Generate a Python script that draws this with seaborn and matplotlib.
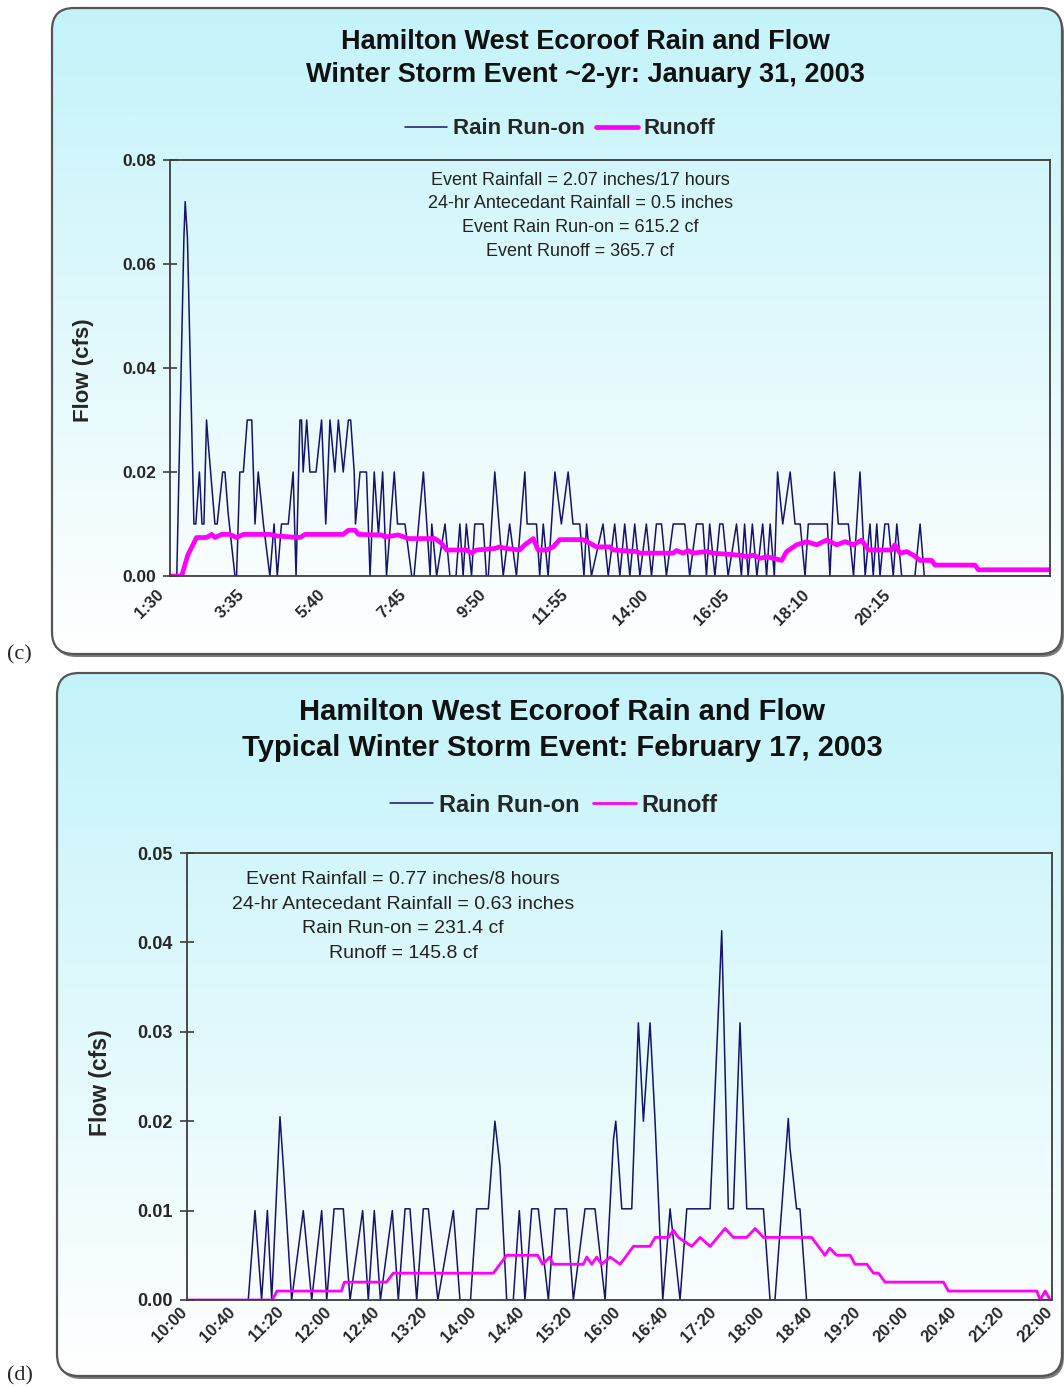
import numpy as np
import matplotlib
matplotlib.use("Agg")
import matplotlib.pyplot as plt
from matplotlib.patches import FancyBboxPatch
from matplotlib.colors import LinearSegmentedColormap
from matplotlib.transforms import ScaledTranslation
import seaborn as sns

# --- (c) January 31, 2003: 5-minute readings, step 0 = 1:30 ---
rain_c_step = [0, 2.1, 4.3, 4.7, 5.4, 7.4, 8.0, 9.1, 9.9, 10.5, 11.3, 11.9, 13.9, 14.6,
               16.3, 17.0, 18.0, 20.1, 20.6, 21.6, 22.7, 23.9, 25.3, 26.3, 27.3, 28.9,
               30.9, 32.2, 33.2, 34.5, 36.6, 38.1, 39.0, 40.2, 40.7, 41.2, 42.3, 43.3,
               45.2, 46.9, 48.2, 49.5, 51.0, 52.1, 53.6, 55.2, 55.9, 57.0, 57.4, 58.8,
               60.8, 61.9, 63.2, 64.5, 65.8, 67.0, 69.4, 70.4, 72.7, 74.8, 75.5, 78.4,
               80.5, 81.0, 82.5, 85.1, 86.6, 88.5, 89.7, 90.7, 91.7, 93.3, 94.3, 96.9,
               97.9, 98.5, 100.5, 103.1, 105.1, 107.2, 109.8, 110.5, 113.4, 114.4, 115.5,
               117.0, 119.1, 121.1, 123.2, 124.7, 126.8, 128.1, 128.9, 130.4, 134.0,
               135.6, 137.6, 139.2, 140.7, 142.3, 143.8, 145.4, 147.4, 149.0, 150.5,
               152.1, 153.6, 155.7, 159.3, 160.8, 162.9, 164.9, 166.0, 167.0, 168.6,
               170.1, 171.1, 172.7, 175.3, 176.8, 177.8, 178.9, 180.2, 181.6, 183.4,
               184.6, 185.7, 187.0, 188.0, 189.6, 191.9, 193.4, 195.0, 196.5, 197.5,
               203.4, 204.2, 205.6, 206.8, 209.9, 211.5, 213.5, 215.1, 216.6, 217.6,
               218.7, 219.7, 221.2, 222.3, 223.8, 224.9, 226.4, 230.5, 232.1, 233.4, 272.3]
rain_c = [0, 0, 0.065, 0.072, 0.065, 0.01, 0.01, 0.02, 0.01, 0.01, 0.03, 0.025, 0.01, 0.01,
          0.02, 0.02, 0.012, 0, 0, 0.02, 0.02, 0.03, 0.03, 0.01, 0.02, 0.01,
          0, 0.01, 0, 0.01, 0.01, 0.02, 0, 0.03, 0.03, 0.02, 0.03, 0.02,
          0.02, 0.03, 0.01, 0.03, 0.02, 0.03, 0.02, 0.03, 0.03, 0.02, 0.01, 0.02,
          0.02, 0, 0.02, 0.008, 0.02, 0, 0.02, 0.01, 0.01, 0, 0, 0.02,
          0, 0.01, 0, 0.01, 0, 0, 0.01, 0, 0.01, 0, 0.01, 0.01,
          0, 0, 0.02, 0, 0.01, 0, 0.02, 0.01, 0.01, 0, 0.01,
          0, 0.02, 0.01, 0.02, 0.01, 0.01, 0, 0.01, 0, 0.01,
          0, 0.01, 0, 0.01, 0, 0.01, 0, 0.01, 0, 0.01,
          0.01, 0, 0.01, 0.01, 0, 0.01, 0.01, 0, 0.01, 0,
          0.01, 0.01, 0, 0.01, 0, 0.01, 0, 0.01, 0, 0.01,
          0, 0.01, 0, 0.02, 0.01, 0.02, 0.01, 0.01, 0, 0.01,
          0.01, 0, 0.02, 0.01, 0.01, 0, 0.02, 0, 0.01, 0,
          0.01, 0, 0.01, 0.01, 0, 0.01, 0, 0, 0.01, 0, 0]

runoff_c_step = [0, 3.6, 5.5, 8.2, 11.3, 12.9, 13.9, 16.0, 18.5, 20.6, 22.7, 31.0, 33.0,
                 40.2, 41.8, 53.6, 55.2, 57.3, 58.3, 65.5, 66.5, 70.6, 73.8, 82.0, 84.0,
                 85.6, 91.7, 93.3, 94.8, 100.5, 102.0, 104.0, 108.2, 109.8, 112.4, 113.9,
                 116.5, 118.6, 120.6, 127.8, 129.9, 132.0, 136.1, 137.1, 144.3, 145.4,
                 155.7, 156.7, 158.8, 160.3, 161.8, 166.0, 168.0, 176.4, 178.5, 180.5,
                 182.6, 184.6, 186.7, 189.3, 190.8, 193.9, 197.0, 200.1, 203.2, 206.3,
                 208.9, 211.5, 214.0, 216.1, 223.3, 224.3, 225.9, 228.0, 230.0, 232.1,
                 235.7, 236.7, 249.1, 250.1, 272.3]
runoff_c = [0, 0, 0.004, 0.0074, 0.0074, 0.008, 0.0074, 0.008, 0.008, 0.0074, 0.008, 0.008, 0.0077,
            0.0074, 0.008, 0.008, 0.0088, 0.0088, 0.008, 0.0079, 0.0075, 0.0079, 0.0072, 0.0072, 0.0063,
            0.005, 0.005, 0.0044, 0.005, 0.0053, 0.0056, 0.0053, 0.005, 0.006, 0.0072, 0.005,
            0.005, 0.0056, 0.007, 0.007, 0.0063, 0.0056, 0.0056, 0.005, 0.0047, 0.0044,
            0.0044, 0.0049, 0.0044, 0.0049, 0.0044, 0.0047, 0.0044, 0.004, 0.0037, 0.004,
            0.0034, 0.0037, 0.0034, 0.003, 0.0047, 0.006, 0.0066, 0.006, 0.0069, 0.006,
            0.0066, 0.006, 0.0069, 0.005, 0.005, 0.006, 0.0044, 0.0047, 0.004, 0.003,
            0.003, 0.0021, 0.0021, 0.0012, 0.0012]
ticks_c = ["1:30", "3:35", "5:40", "7:45", "9:50", "11:55", "14:00", "16:05", "18:10", "20:15"]
notes_c = ["Event Rainfall = 2.07 inches/17 hours",
           "24-hr Antecedant Rainfall = 0.5 inches",
           "Event Rain Run-on = 615.2 cf",
           "Event Runoff = 365.7 cf"]

# --- (d) February 17, 2003: minutes after 10:00 ---
rain_d_min = [0, 51, 56.6, 62.1, 66.9, 70.5, 77.4, 80.2, 87.1, 96.8, 103.8, 112.1, 116.3,
              122.4, 130.1, 135.7, 146.2, 150.9, 155.9, 161, 170.9, 175.9, 181.5, 185.6,
              191.2, 196.7, 200.9, 208.8, 221.7, 227.2, 236, 241.1, 250.8, 256.3, 260.5,
              266.1, 271.6, 276.6, 281.3, 286.9, 292.4, 300.8, 306.3, 316, 321.6, 331.3,
              339.6, 348, 355, 356.9, 361.9, 370.2, 375.7, 379.9, 385.4, 389.6, 396,
              402.1, 410.4, 416, 435.4, 445.1, 450.6, 454.8, 460.3, 465.9, 479.8, 485.3,
              489.4, 500.5, 501.9, 507.4, 510.2, 515.7, 720]
rain_d = [0, 0, 0.01, 0, 0.01, 0, 0.0205, 0.015, 0, 0.01, 0, 0.01, 0,
          0.0102, 0.0102, 0, 0.01, 0, 0.01, 0, 0.01, 0, 0.0102, 0.0102,
          0, 0.0102, 0.0102, 0, 0.01, 0, 0, 0.0102, 0.0102, 0.02, 0.015,
          0, 0, 0.01, 0, 0.0102, 0.0102, 0, 0.0102, 0.0102, 0, 0.0102,
          0.0102, 0, 0.018, 0.02, 0.0102, 0.0102, 0.031, 0.02, 0.031, 0.02, 0,
          0.0102, 0, 0.0102, 0.0102, 0.0413, 0.0102, 0.0102, 0.031, 0.0102, 0.0102, 0,
          0, 0.0203, 0.017, 0.0102, 0.0102, 0, 0]

runoff_d_min = [0, 71, 74.9, 128.6, 131, 166, 171.7, 255, 266, 292, 296, 302, 304.7,
                329.9, 332.7, 336.9, 341, 345.2, 352.2, 360.5, 371.6, 385.4, 389.6,
                400.7, 404.9, 409, 420.1, 427.1, 435.4, 447.9, 454.8, 465.9, 472.9,
                479.8, 520, 531, 535, 540.8, 552, 556.1, 565.9, 571.4, 575.6, 581.1,
                629.6, 633.8, 707.4, 710.2, 714.3, 718.5]
runoff_d = [0, 0, 0.001, 0.001, 0.002, 0.002, 0.003, 0.003, 0.005, 0.005, 0.004, 0.0048, 0.004,
            0.004, 0.0048, 0.004, 0.0048, 0.004, 0.0048, 0.004, 0.006, 0.006, 0.007,
            0.007, 0.0078, 0.007, 0.006, 0.007, 0.006, 0.008, 0.007, 0.007, 0.008,
            0.007, 0.007, 0.005, 0.0058, 0.005, 0.005, 0.004, 0.004, 0.003, 0.003, 0.002,
            0.002, 0.001, 0.001, 0, 0.001, 0]
ticks_d = ["10:00", "10:40", "11:20", "12:00", "12:40", "13:20", "14:00", "14:40", "15:20",
           "16:00", "16:40", "17:20", "18:00", "18:40", "19:20", "20:00", "20:40", "21:20", "22:00"]
notes_d = ["Event Rainfall = 0.77 inches/8 hours",
           "24-hr Antecedant Rainfall = 0.63 inches",
           "Rain Run-on = 231.4 cf",
           "Runoff = 145.8 cf"]

RAIN = "#14146e"
RUNOFF = "#ff00ff"
EDGE = "#3c3c3c"

sns.set_theme(style="white")
plt.rcParams['font.family'] = ['Liberation Sans', 'DejaVu Sans']

W, H = 1064, 1387
fig = plt.figure(figsize=(W / 100, H / 100), dpi=100)
fig.patch.set_facecolor('white')

bg = fig.add_axes([0, 0, 1, 1], zorder=0)
grad_cmap = LinearSegmentedColormap.from_list('sky', ['#c3f3f9', '#ffffff'])


def panel(x0, y0, x1, y1):
    shadow = FancyBboxPatch((x0 + 2, y0 + 3), x1 - x0, y1 - y0,
                            boxstyle="round,pad=0,rounding_size=22",
                            fc='#7a7a7a', ec='none', zorder=1)
    bg.add_patch(shadow)
    box = FancyBboxPatch((x0, y0), x1 - x0, y1 - y0,
                         boxstyle="round,pad=0,rounding_size=22",
                         fc='none', ec='#555555', lw=1.6, zorder=3)
    bg.add_patch(box)
    grad = np.linspace(0, 1, 256)[:, None]
    im = bg.imshow(grad, cmap=grad_cmap, extent=(x0, x1, y1, y0),
                   aspect='auto', zorder=2, interpolation='bilinear')
    im.set_clip_path(box)


panel(52, 8, 1062, 654)
panel(57, 673, 1062, 1376)
bg.set_xlim(0, W)
bg.set_ylim(H, 0)
bg.axis('off')

bg.text(7, 655, "(c)", family=['Liberation Serif', 'DejaVu Serif'], fontsize=16, va='center')
bg.text(7, 1376, "(d)", family=['Liberation Serif', 'DejaVu Serif'], fontsize=16, va='center')


def fx(px):
    return px / W


def fy(py):
    return 1 - py / H


def style_axes(ax, xsize, ysize, xpad, xshift):
    ax.set_facecolor('none')
    for s in ax.spines.values():
        s.set_color(EDGE)
        s.set_linewidth(1.3)
        s.set_visible(True)
    ax.tick_params(axis='y', direction='inout', length=10, width=1.2, color=EDGE,
                   labelsize=ysize, pad=5, left=True)
    ax.tick_params(axis='x', length=0, pad=xpad, labelsize=xsize)
    for lab in ax.get_yticklabels():
        lab.set_fontweight('bold')
    shift = ScaledTranslation(xshift / 100, 0, fig.dpi_scale_trans)
    for lab in ax.get_xticklabels():
        lab.set_fontweight('bold')
        lab.set_rotation(45)
        lab.set_ha('right')
        lab.set_va('center')
        lab.set_rotation_mode('anchor')
        lab.set_transform(lab.get_transform() + shift)
    ax.set_xlabel('')
    ax.set_ylabel('')


# ---------- chart (c) ----------
ax1 = fig.add_axes([fx(170), fy(576), fx(1050 - 170), (576 - 160) / H], zorder=2)
x_rain_c = [90 + s * 5 for s in rain_c_step]
x_run_c = [90 + s * 5 for s in runoff_c_step]
sns.lineplot(x=x_rain_c, y=rain_c, ax=ax1, color=RAIN, linewidth=1.1,
             label="Rain Run-on", estimator=None, sort=False)
sns.lineplot(x=x_run_c, y=runoff_c, ax=ax1, color=RUNOFF, linewidth=3.4,
             label="Runoff", estimator=None, sort=False)
ax1.set_xlim(90, 90 + 272.3 * 5)
ax1.set_ylim(0, 0.08)
ax1.set_yticks([0, 0.02, 0.04, 0.06, 0.08])
ax1.set_yticklabels([f"{v:.2f}" for v in [0, 0.02, 0.04, 0.06, 0.08]])
ax1.set_xticks([90 + 125 * i for i in range(len(ticks_c))])
ax1.set_xticklabels(ticks_c)
style_axes(ax1, 12, 12.5, 12, -9)
ax1.legend(loc='center', bbox_to_anchor=(fx(560), fy(129)), bbox_transform=fig.transFigure,
           ncol=2, frameon=False, prop={'weight': 'bold', 'size': 16},
           handlelength=1.9, handletextpad=0.25, columnspacing=0.5)
ax1.text(fx(580), fy(172), "\n".join(notes_c), transform=fig.transFigure,
         ha='center', va='top', fontsize=13, linespacing=1.5, color='#222222')

fig.text(fx(585), fy(42), "Hamilton West Ecoroof Rain and Flow", ha='center', va='center',
         fontsize=19.5, fontweight='bold', color='#111111')
fig.text(fx(585), fy(75), "Winter Storm Event ~2-yr: January 31, 2003", ha='center', va='center',
         fontsize=19.5, fontweight='bold', color='#111111')
fig.text(fx(83), fy(370), "Flow (cfs)", rotation=90, ha='center', va='center',
         fontsize=16, fontweight='bold')

# ---------- chart (d) ----------
ax2 = fig.add_axes([fx(187), fy(1300), fx(1052 - 187), (1300 - 853) / H], zorder=2)
x_rain_d = [600 + m for m in rain_d_min]
x_run_d = [600 + m for m in runoff_d_min]
sns.lineplot(x=x_rain_d, y=rain_d, ax=ax2, color=RAIN, linewidth=1.1,
             label="Rain Run-on", estimator=None, sort=False)
sns.lineplot(x=x_run_d, y=runoff_d, ax=ax2, color=RUNOFF, linewidth=2.0,
             label="Runoff", estimator=None, sort=False)
ax2.set_xlim(600, 1320)
ax2.set_ylim(0, 0.05)
ax2.set_yticks([0, 0.01, 0.02, 0.03, 0.04, 0.05])
ax2.set_yticklabels([f"{v:.2f}" for v in [0, 0.01, 0.02, 0.03, 0.04, 0.05]])
ax2.set_xticks([600 + 40 * i for i in range(len(ticks_d))])
ax2.set_xticklabels(ticks_d)
style_axes(ax2, 12, 13, 7, -2)
ax2.legend(loc='center', bbox_to_anchor=(fx(554), fy(805)), bbox_transform=fig.transFigure,
           ncol=2, frameon=False, prop={'weight': 'bold', 'size': 17},
           handlelength=1.8, handletextpad=0.25, columnspacing=0.6)
ax2.text(fx(403), fy(871), "\n".join(notes_d), transform=fig.transFigure,
         ha='center', va='top', fontsize=14, linespacing=1.58, color='#222222')

fig.text(fx(562), fy(712), "Hamilton West Ecoroof Rain and Flow", ha='center', va='center',
         fontsize=21, fontweight='bold', color='#111111')
fig.text(fx(562), fy(748), "Typical Winter Storm Event: February 17, 2003", ha='center', va='center',
         fontsize=21, fontweight='bold', color='#111111')
fig.text(fx(100), fy(1083), "Flow (cfs)", rotation=90, ha='center', va='center',
         fontsize=16.5, fontweight='bold')

fig.savefig("out.png", dpi=100)
